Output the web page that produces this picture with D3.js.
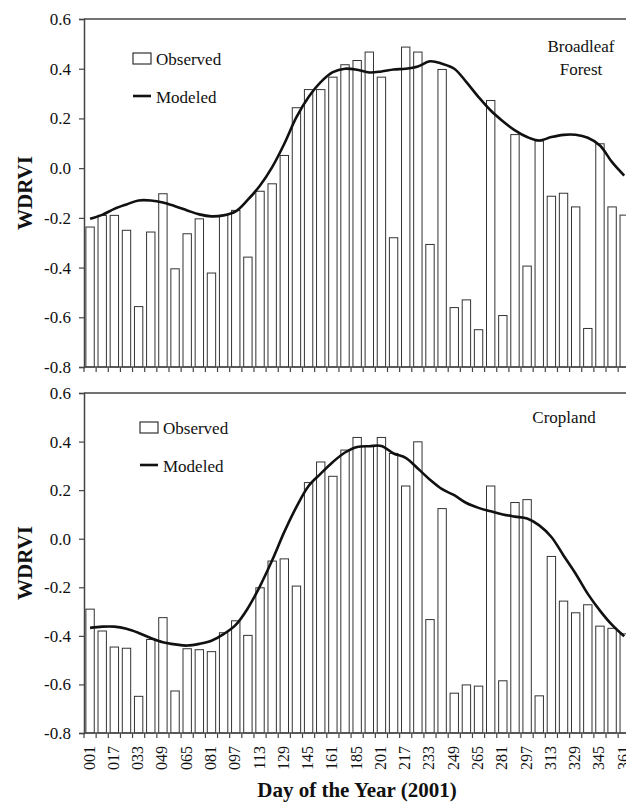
<!DOCTYPE html>
<html>
<head>
<meta charset="utf-8">
<script src="https://cdn.jsdelivr.net/npm/d3@7"></script>
<style>
  html, body { margin: 0; padding: 0; background: #fff; }
  svg { display: block; }
  text { font-family: "Liberation Serif", "Times New Roman", serif; fill: #111; }
</style>
</head>
<body>
<svg id="chart" width="626" height="805"></svg>
<script>
// ---- data ----
const days = ["001","009","017","025","033","041","049","057","065","073","081","089","097","105","113","121","129","137","145","153","161","169","185","193","201","209","217","225","233","241","249","257","265","273","281","289","297","305","313","321","329","337","345","353","361"];

const forestObserved = [-0.237,-0.19,-0.19,-0.25,-0.557,-0.257,-0.103,-0.405,-0.264,-0.204,-0.422,-0.19,-0.17,-0.358,-0.093,-0.063,0.051,0.243,0.316,0.316,
  0.366,0.416,0.433,0.467,0.366,-0.28,0.487,0.467,-0.307,0.397,-0.561,-0.53,-0.65,0.272,-0.593,0.135,-0.394,0.109,-0.113,-0.101,-0.156,-0.645,0.098,-0.156,-0.189];
const forestModeled = [-0.204,-0.188,-0.164,-0.146,-0.130,-0.130,-0.138,-0.153,-0.170,-0.186,-0.194,-0.190,-0.174,-0.127,-0.070,0.004,0.098,0.205,0.286,0.346,
  0.386,0.400,0.396,0.385,0.389,0.397,0.400,0.409,0.430,0.420,0.400,0.346,0.286,0.232,0.189,0.152,0.125,0.111,0.125,0.134,0.134,0.122,0.091,0.024,-0.030];

const cropObserved = [-0.290,-0.380,-0.446,-0.451,-0.649,-0.415,-0.325,-0.627,-0.453,-0.457,-0.465,-0.387,-0.338,-0.398,-0.202,-0.092,-0.083,-0.195,0.231,0.316,
  0.257,0.365,0.417,0.380,0.417,0.351,0.217,0.399,-0.333,0.124,-0.636,-0.602,-0.607,0.217,-0.585,0.149,0.161,-0.647,-0.073,-0.257,-0.305,-0.272,-0.360,-0.369,-0.392];
const cropModeled = [-0.367,-0.362,-0.362,-0.371,-0.388,-0.409,-0.426,-0.435,-0.440,-0.433,-0.420,-0.393,-0.355,-0.286,-0.195,-0.089,0.028,0.131,0.217,0.268,
  0.316,0.355,0.378,0.381,0.382,0.351,0.333,0.289,0.243,0.204,0.179,0.147,0.127,0.113,0.100,0.091,0.083,0.055,0.007,-0.069,-0.144,-0.227,-0.296,-0.355,-0.402];

const yTicks = [-0.8,-0.6,-0.4,-0.2,0.0,0.2,0.4,0.6];
const yTickLabels = ["-0.8","-0.6","-0.4","-0.2","0.0","0.2","0.4","0.6"];
const xTickLabels = days.filter((d, i) => i % 2 === 0);

const panelNames = [["Broadleaf", "Forest"], ["Cropland"]];
const legendLabels = ["Observed", "Modeled"];
const yTitle = "WDRVI";
const xTitle = "Day of the Year (2001)";

// ---- layout ----
const svg = d3.select("#chart");
svg.append("rect").attr("width", 626).attr("height", 805).attr("fill", "#fff");

const left = 84;
const step = 12.14;
const x = d3.scaleBand()
  .domain(days)
  .range([left, left + step * days.length])
  .paddingInner(0.31)
  .paddingOuter(0.155);

const panels = [
  { top: 19, bottom: 367, obs: forestObserved, mod: forestModeled, name: panelNames[0],
    nameX: 581, nameY: 52, legX: 133, legY: 53, showLabels: false },
  { top: 393, bottom: 733, obs: cropObserved, mod: cropModeled, name: panelNames[1],
    nameX: 564, nameY: 423, legX: 140, legY: 422, showLabels: true }
];

const axisColor = "#444";

panels.forEach(p => {
  const y = d3.scaleLinear().domain([-0.8, 0.6]).range([p.bottom, p.top]);
  const g = svg.append("g");

  // bars
  g.selectAll("rect.bar").data(days).join("rect")
    .attr("class", "bar")
    .attr("x", d => x(d))
    .attr("width", x.bandwidth())
    .attr("y", (d, i) => y(p.obs[i]))
    .attr("height", (d, i) => y(-0.8) - y(p.obs[i]))
    .attr("fill", "#fff")
    .attr("stroke", "#333")
    .attr("stroke-width", 1);

  // top border
  g.append("line")
    .attr("x1", left).attr("x2", 626)
    .attr("y1", y(0.6)).attr("y2", y(0.6))
    .attr("stroke", axisColor).attr("stroke-width", 1.5);

  // y axis
  const ya = d3.axisLeft(y)
    .tickValues(yTicks)
    .tickFormat((d, i) => yTickLabels[i])
    .tickSize(5)
    .tickPadding(8);
  const yg = g.append("g").attr("transform", `translate(${left},0)`).call(ya);
  yg.attr("font-family", null);
  yg.select(".domain").attr("stroke", axisColor).attr("stroke-width", 1.5);
  yg.selectAll(".tick line").attr("stroke", axisColor).attr("stroke-width", 1.2);
  yg.selectAll(".tick text")
    .style("font-family", '"Liberation Serif", serif')
    .style("font-size", "17px").attr("fill", "#222");

  // x axis baseline
  g.append("line")
    .attr("x1", left).attr("x2", 626)
    .attr("y1", y(-0.8)).attr("y2", y(-0.8))
    .attr("stroke", axisColor).attr("stroke-width", 1.5);

  // ticks at band boundaries
  const half = x.step() * x.paddingInner() / 2;
  const bounds = days.map(d => x(d) - half).concat([x(days[days.length - 1]) + x.bandwidth() + half]);
  g.selectAll("line.xtick").data(bounds).join("line")
    .attr("class", "xtick")
    .attr("x1", d => d).attr("x2", d => d)
    .attr("y1", y(-0.8)).attr("y2", y(-0.8) + 5)
    .attr("stroke", axisColor).attr("stroke-width", 1.2);

  if (p.showLabels) {
    const xa = d3.axisBottom(x).tickValues(xTickLabels).tickSize(0).tickPadding(0);
    const xg = g.append("g").attr("transform", `translate(0,${y(-0.8)})`).call(xa);
    xg.attr("font-family", null);
    xg.select(".domain").remove();
    xg.selectAll(".tick text")
      .style("font-family", '"Liberation Serif", serif')
      .style("font-size", "16px")
      .attr("fill", "#222")
      .attr("text-anchor", "end")
      .attr("x", 0).attr("y", 0).attr("dy", null)
      .attr("transform", "translate(-1,13) rotate(-90) translate(0,5.5)");
  }

  // modeled line
  const line = d3.line()
    .x((d, i) => x(days[i]) + x.bandwidth() / 2)
    .y(d => y(d))
    .curve(d3.curveCatmullRom.alpha(0.5));
  g.append("path")
    .datum(p.mod)
    .attr("d", line)
    .attr("fill", "none")
    .attr("stroke", "#111")
    .attr("stroke-width", 2.6);

  // legend
  g.append("rect")
    .attr("x", p.legX).attr("y", p.legY)
    .attr("width", 18).attr("height", 11)
    .attr("fill", "#fff").attr("stroke", "#333").attr("stroke-width", 1.2);
  g.append("text")
    .attr("x", p.legX + 23).attr("y", p.legY + 12)
    .style("font-size", "17px").text(legendLabels[0]);
  g.append("line")
    .attr("x1", p.legX).attr("x2", p.legX + 18)
    .attr("y1", p.legY + 43).attr("y2", p.legY + 43)
    .attr("stroke", "#111").attr("stroke-width", 2.6);
  g.append("text")
    .attr("x", p.legX + 23).attr("y", p.legY + 49.5)
    .style("font-size", "17px").text(legendLabels[1]);

  // panel name
  const nt = g.append("text")
    .attr("x", p.nameX).attr("y", p.nameY)
    .attr("text-anchor", "middle")
    .style("font-size", "17px");
  p.name.forEach((s, i) => {
    nt.append("tspan").attr("x", p.nameX).attr("dy", i === 0 ? 0 : 23).text(s);
  });

  // y title
  g.append("text")
    .attr("transform", `translate(32,${(p.top + p.bottom) / 2}) rotate(-90)`)
    .attr("text-anchor", "middle")
    .style("font-size", "21px")
    .style("font-weight", "bold")
    .text(yTitle);
});

// x title
svg.append("text")
  .attr("x", 357).attr("y", 797)
  .attr("text-anchor", "middle")
  .style("font-size", "21px")
  .style("font-weight", "bold")
  .text(xTitle);
</script>
</body>
</html>
